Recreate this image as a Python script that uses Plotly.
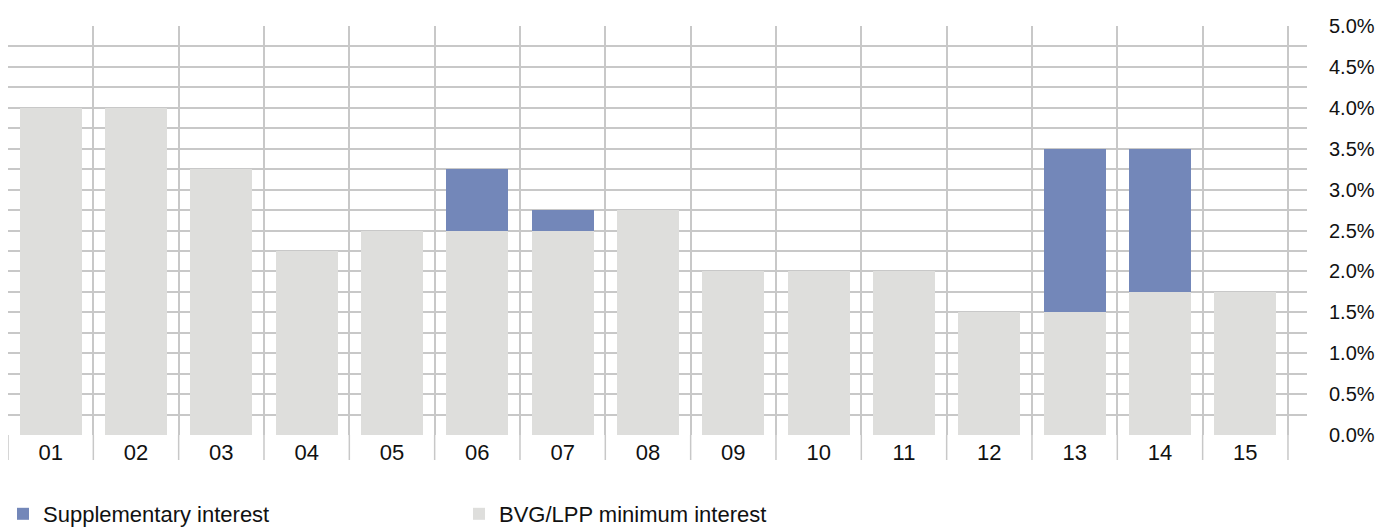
import plotly.graph_objects as go

categories = ["01", "02", "03", "04", "05", "06", "07", "08", "09", "10", "11", "12", "13", "14", "15"]
minimum_interest = [4.0, 4.0, 3.25, 2.25, 2.5, 2.5, 2.5, 2.75, 2.0, 2.0, 2.0, 1.5, 1.5, 1.75, 1.75]
supplementary_interest = [0, 0, 0, 0, 0, 0.75, 0.25, 0, 0, 0, 0, 0, 2.0, 1.75, 0]
y_tick_vals = [0.0, 0.5, 1.0, 1.5, 2.0, 2.5, 3.0, 3.5, 4.0, 4.5, 5.0]
y_tick_text = ["0.0%", "0.5%", "1.0%", "1.5%", "2.0%", "2.5%", "3.0%", "3.5%", "4.0%", "4.5%", "5.0%"]

# page body has an 8px margin, so the figure is sized to fit the window
W, H = 1378, 523
ml, mt = 0, 18
plot_w, plot_h = 1299, 409
mr = W - ml - plot_w
mb = H - mt - plot_h
grid_color = "#C8C8C8"
font_family = "Liberation Sans, Arial, sans-serif"

fig = go.Figure()
fig.add_trace(go.Bar(
    x=categories, y=minimum_interest, name="BVG/LPP minimum interest",
    marker=dict(color="#DEDEDC", line=dict(width=0)),
))
fig.add_trace(go.Bar(
    x=categories, y=supplementary_interest, name="Supplementary interest",
    marker=dict(color="#7387B9", line=dict(width=0)),
))

n = len(categories)
shapes = []
for i in range(n + 1):
    shapes.append(dict(
        type="line", xref="x", yref="paper",
        x0=i - 0.5, x1=i - 0.5, y0=0, y1=-25 / plot_h,
        line=dict(color=grid_color, width=1.5),
    ))

fig.update_layout(
    width=W, height=H,
    margin=dict(l=ml, r=mr, t=mt, b=mb, autoexpand=False),
    paper_bgcolor="white", plot_bgcolor="white",
    barmode="stack", bargap=0.27,
    font=dict(family=font_family, color="#222222"),
    showlegend=True,
    legend=dict(
        orientation="h", x=-5 / plot_w, xanchor="left", y=-79 / plot_h, yanchor="middle",
        traceorder="reversed", font=dict(size=22, color="#111111"),
        entrywidth=411, entrywidthmode="pixels",
    ),
    shapes=shapes,
    xaxis=dict(
        type="category", range=[-0.5, n - 0.5 + 0.223],
        tickson="boundaries", showgrid=True, gridcolor=grid_color, gridwidth=1.5,
        ticks="", showline=False, zeroline=False, automargin=False,
        tickfont=dict(size=22, color="#111111"), ticklabelstandoff=2,
        layer="above traces",
    ),
    yaxis=dict(
        side="right", range=[0, 5], tickmode="array",
        tickvals=y_tick_vals, ticktext=y_tick_text,
        showgrid=True, gridcolor=grid_color, gridwidth=1.5,
        minor=dict(dtick=0.25, showgrid=True, gridcolor=grid_color, gridwidth=1.5),
        ticks="", showline=False, zeroline=False, automargin=False,
        tickfont=dict(size=20, color="#111111"), ticklabelstandoff=21,
        layer="above traces",
    ),
)

fig.write_html("out.html")
